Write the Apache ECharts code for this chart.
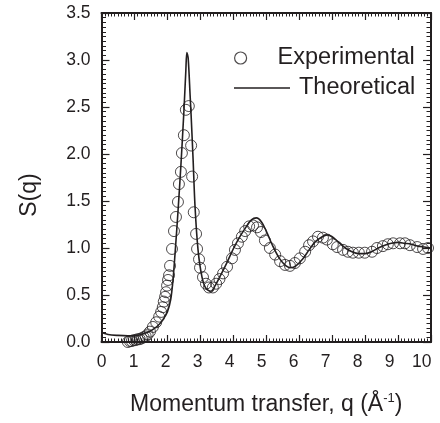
<!DOCTYPE html>
<html>
<head>
<meta charset="utf-8">
<script src="https://cdn.jsdelivr.net/npm/echarts@6/dist/echarts.min.js"></script>
<style>
html,body{margin:0;padding:0;background:#fff;}
#c{width:440px;height:423px;}
</style>
</head>
<body>
<div id="c"></div>
<script>
// Experimental S(q)
const expQ = [0.80,0.86,0.92,0.98,1.04,1.10,1.16,1.22,1.28,1.34,1.40,1.47,1.56,1.66,1.75,1.81,1.86,1.89,1.93,1.96,1.99,2.02,2.05,2.08,2.14,2.20,2.26,2.32,2.35,2.41,2.44,2.50,2.56,2.65,2.72,2.75,2.80,2.87,2.90,2.96,2.99,3.08,3.17,3.26,3.38,3.48,3.58,3.69,3.81,3.96,4.05,4.14,4.26,4.36,4.48,4.60,4.72,4.84,4.96,5.11,5.27,5.42,5.57,5.72,5.87,6.02,6.18,6.30,6.42,6.57,6.72,6.84,7.02,7.15,7.33,7.48,7.63,7.81,7.99,8.21,8.36,8.54,8.69,8.85,9.06,9.21,9.36,9.58,9.76,9.91];
const expS = [0.00,0.01,0.01,0.02,0.02,0.03,0.03,0.04,0.05,0.06,0.08,0.11,0.16,0.21,0.27,0.32,0.37,0.43,0.48,0.53,0.60,0.66,0.71,0.81,0.99,1.18,1.33,1.49,1.68,1.81,2.01,2.20,2.47,2.51,2.09,1.76,1.38,1.15,0.99,0.88,0.79,0.69,0.62,0.58,0.58,0.62,0.67,0.73,0.80,0.89,0.98,1.05,1.12,1.18,1.23,1.24,1.22,1.17,1.08,1.00,0.93,0.86,0.82,0.81,0.84,0.89,0.96,1.03,1.07,1.12,1.11,1.09,1.04,1.01,0.98,0.96,0.95,0.95,0.95,0.96,1.00,1.02,1.04,1.05,1.05,1.05,1.03,1.01,0.99,1.00];
// Theoretical S(q)
const thQ = [0.00,0.20,0.50,0.80,1.10,1.30,1.50,1.70,1.85,2.00,2.10,2.17,2.23,2.32,2.41,2.50,2.56,2.59,2.63,2.69,2.72,2.78,2.84,2.93,3.05,3.17,3.32,3.45,3.60,3.80,4.00,4.20,4.40,4.55,4.70,4.85,5.00,5.20,5.40,5.60,5.75,5.90,6.10,6.30,6.50,6.70,6.85,7.00,7.20,7.40,7.60,7.80,8.00,8.20,8.40,8.60,8.80,9.00,9.20,9.40,9.60,9.80,10.00];
const thS = [0.10,0.08,0.07,0.065,0.07,0.09,0.12,0.17,0.23,0.32,0.45,0.66,0.93,1.38,1.88,2.45,2.89,3.08,3.02,2.62,2.41,1.94,1.43,0.98,0.69,0.57,0.54,0.60,0.70,0.84,0.99,1.12,1.23,1.30,1.32,1.28,1.18,1.02,0.89,0.81,0.79,0.81,0.88,0.98,1.07,1.12,1.14,1.12,1.06,1.00,0.96,0.94,0.94,0.96,1.00,1.03,1.05,1.06,1.05,1.04,1.02,1.01,1.00];
const xTickLabels = ['0','1','2','3','4','5','6','7','8','9','10'];
const yTickLabels = ['0.0','0.5','1.0','1.5','2.0','2.5','3.0','3.5'];
const seriesNames = ['Experimental','Theoretical'];
const xTitle = 'Momentum transfer, q (Å';
const xTitleSup = '-1';
const yTitle = 'S(q)';

const FONT = '"Liberation Sans", Arial, sans-serif';
const INK = '#231f20';

const frameAxis = (extra) => Object.assign({
  type: 'value', gridIndex: 0,
  axisLine: { show: true, onZero: false, lineStyle: { color: INK, width: 2 } },
  axisTick: { show: true, inside: true, length: 7, lineStyle: { color: INK, width: 1.2 } },
  minorTick: { show: true, splitNumber: 10, length: 3.5, lineStyle: { color: INK, width: 1 } },
  axisLabel: { show: false },
  splitLine: { show: false }, minorSplitLine: { show: false }
}, extra);

const chart = echarts.init(document.getElementById('c'), null, { renderer: 'canvas' });
chart.setOption({
  backgroundColor: '#fff',
  animation: false,
  textStyle: { fontFamily: FONT, color: INK },
  grid: { left: 101.5, right: 9, top: 13, bottom: 81, containLabel: false },
  graphic: [{
    type: 'text', x: 30, y: 195, rotation: Math.PI / 2,
    style: { text: yTitle, fontSize: 23, fontFamily: FONT, fill: INK, align: 'center', verticalAlign: 'middle' }
  }],
  legend: [
    { data: [seriesNames[0]], left: 234, top: 46, padding: 0, itemWidth: 56, itemHeight: 12,
      itemStyle: { color: 'rgba(0,0,0,0)', borderColor: INK, borderWidth: 1.2 },
      textStyle: { fontSize: 23.5, fontFamily: FONT, color: INK, padding: [0, 0, 0, 4] } },
    { data: [seriesNames[1]], left: 234, top: 76, padding: 0, itemWidth: 56, itemHeight: 1.6,
      icon: 'rect',
      itemStyle: { color: INK, borderWidth: 0 },
      textStyle: { fontSize: 23.5, fontFamily: FONT, color: INK, padding: [0, 0, 0, 4] } }
  ],
  xAxis: [
    frameAxis({ position: 'bottom', min: 0, max: 10, interval: 1 }),
    frameAxis({ position: 'top', min: 0, max: 10, interval: 1 }),
    {
      type: 'value', gridIndex: 0, position: 'bottom', min: 0, max: 10.29, interval: 1,
      axisLine: { show: false }, axisTick: { show: false }, splitLine: { show: false },
      axisLabel: {
        show: true, fontSize: 17.5, margin: 11, color: INK, fontFamily: FONT,
        formatter: v => { const r = Math.round(v); return Math.abs(v - r) < 1e-6 && xTickLabels[r] !== undefined ? xTickLabels[r] : ''; }
      },
      name: '{a|' + xTitle + '}{s|' + xTitleSup + '}{a|)}',
      nameLocation: 'middle', nameGap: 50,
      nameTextStyle: {
        rich: {
          a: { fontSize: 23, fontFamily: FONT, color: INK },
          s: { fontSize: 13, fontFamily: FONT, color: INK, padding: [0, 0, 12, 0] }
        }
      }
    }
  ],
  yAxis: [
    frameAxis({ position: 'left', min: 0, max: 3.5, interval: 0.5,
      axisTick: { show: true, inside: true, length: 8, lineStyle: { color: INK, width: 1.2 } },
      minorTick: { show: true, splitNumber: 10, length: 4.5, lineStyle: { color: INK, width: 1 } },
      axisLabel: { show: true, fontSize: 17.5, margin: 11, color: INK, fontFamily: FONT,
        formatter: v => { const i = Math.round(v / 0.5); return yTickLabels[i] !== undefined ? yTickLabels[i] : ''; } } }),
    frameAxis({ position: 'right', min: 0, max: 3.5, interval: 0.5,
      axisTick: { show: true, inside: true, length: 8, lineStyle: { color: INK, width: 1.2 } },
      minorTick: { show: true, splitNumber: 10, length: 4.5, lineStyle: { color: INK, width: 1 } } })
  ],
  series: [
    {
      name: seriesNames[0], type: 'scatter', xAxisIndex: 0, yAxisIndex: 0,
      symbol: 'circle', symbolSize: 11, z: 2,
      itemStyle: { color: 'rgba(0,0,0,0)', borderColor: INK, borderWidth: 1 },
      data: expQ.map((q, i) => [q, expS[i]])
    },
    {
      name: seriesNames[1], type: 'line', xAxisIndex: 0, yAxisIndex: 0,
      symbol: 'none', showSymbol: false, smooth: 0.3, z: 3,
      lineStyle: { color: INK, width: 1.6 },
      itemStyle: { color: INK },
      data: thQ.map((q, i) => [q, thS[i]])
    }
  ]
});
</script>
</body>
</html>
